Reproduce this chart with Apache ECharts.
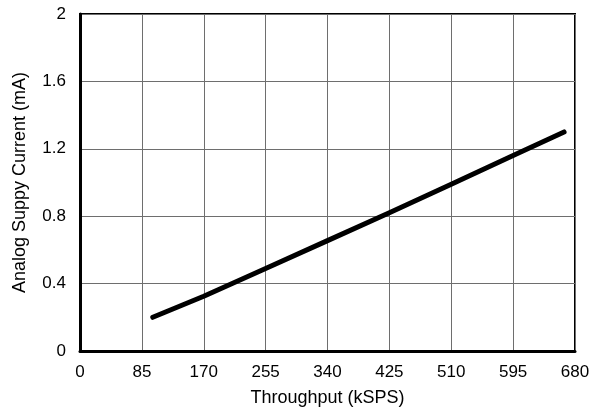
<!DOCTYPE html>
<html>
<head>
<meta charset="utf-8">
<script src="https://cdn.jsdelivr.net/npm/echarts@6/dist/echarts.min.js"></script>
<style>
  html, body { margin: 0; padding: 0; background: #fff; }
  #chart { width: 593px; height: 414px; }
</style>
</head>
<body>
<div id="chart"></div>
<script>
// throughput (kSPS) vs analog supply current (mA)
var throughput = [100, 170, 255, 340, 425, 510, 595, 665];
var current = [0.2, 0.325, 0.49, 0.655, 0.82, 0.99, 1.16, 1.30];
var xTicks = [0, 85, 170, 255, 340, 425, 510, 595, 680];
var yTicks = [0, 0.4, 0.8, 1.2, 1.6, 2];

var font = 'Liberation Sans, Arial, sans-serif';
var chart = echarts.init(document.getElementById('chart'));

chart.setOption({
  animation: false,
  grid: {
    left: 80, right: 18, top: 14, bottom: 63,
    outerBoundsMode: 'none',
    containLabel: false,
    show: true, borderColor: '#000', borderWidth: 2
  },
  xAxis: {
    type: 'value',
    min: xTicks[0], max: xTicks[xTicks.length - 1], interval: 85,
    name: 'Throughput (kSPS)',
    nameLocation: 'middle', nameGap: 38,
    nameTextStyle: { fontFamily: font, fontSize: 18, color: '#000' },
    axisLine: { lineStyle: { color: '#000', width: 3 } },
    axisTick: { show: false },
    axisLabel: { fontFamily: font, fontSize: 17, color: '#000', margin: 13 },
    splitLine: { lineStyle: { color: '#6e6e6e', width: 1 } }
  },
  yAxis: {
    type: 'value',
    min: yTicks[0], max: yTicks[yTicks.length - 1], interval: 0.4,
    name: 'Analog Suppy Current (mA)',
    nameLocation: 'middle', nameGap: 51,
    nameTextStyle: { fontFamily: font, fontSize: 18, color: '#000' },
    axisLine: { show: true, lineStyle: { color: '#000', width: 3 } },
    axisTick: { show: false },
    axisLabel: {
      fontFamily: font, fontSize: 17, color: '#000', margin: 14,
      formatter: function (v) { return String(Math.round(v * 10) / 10); }
    },
    splitLine: { lineStyle: { color: '#6e6e6e', width: 1 } }
  },
  series: [{
    type: 'line',
    data: throughput.map(function (x, i) { return [x, current[i]]; }),
    showSymbol: false,
    lineStyle: { color: '#000', width: 5, cap: 'round', join: 'round' }
  }]
});
</script>
</body>
</html>
